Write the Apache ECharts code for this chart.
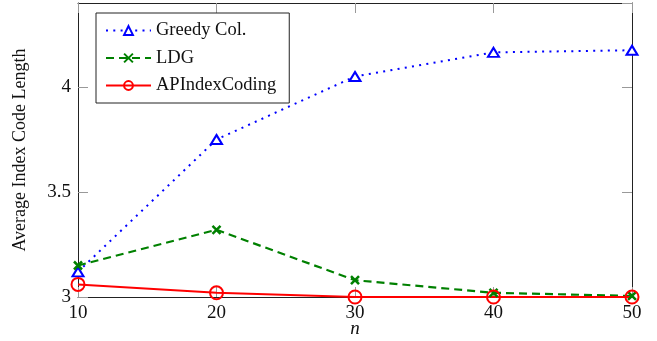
<!DOCTYPE html>
<html>
<head>
<meta charset="utf-8">
<script src="https://cdn.jsdelivr.net/npm/echarts@6/dist/echarts.min.js"></script>
<style>
  html, body { margin: 0; padding: 0; background: #fff; }
  #chart { width: 657px; height: 341px; }
</style>
</head>
<body>
<div id="chart"></div>
<script>
// Average index code length versus n for three coding schemes
const nValues = [10, 20, 30, 40, 50];
const greedyCol = [3.12, 3.75, 4.05, 4.165, 4.175];
const ldg = [3.15, 3.32, 3.08, 3.02, 3.005];
const apIndexCoding = [3.06, 3.02, 3.0, 3.0, 3.0];
const xTicks = [10, 20, 30, 40, 50];
const yTicks = [3, 3.5, 4];

const serif = 'Liberation Serif';
const pair = (xs, ys) => xs.map((x, i) => [x, ys[i]]);

const tickStyle = { show: true, inside: true, length: 10, lineStyle: { color: '#999', width: 1 } };
const frameLine = { show: true, onZero: false, lineStyle: { color: '#222', width: 1 } };

const chart = echarts.init(document.getElementById('chart'), null, { renderer: 'canvas' });
chart.setOption({
  animation: false,
  backgroundColor: '#fff',
  textStyle: { fontFamily: serif },
  grid: { left: 78, right: 25, top: 3, bottom: 44, containLabel: false, outerBoundsMode: 'none' },
  legend: {
    orient: 'vertical',
    left: 96,
    top: 13,
    padding: [8, 13, 8, 9],
    itemGap: 8.5,
    itemWidth: 45,
    itemHeight: 11,
    backgroundColor: '#fff',
    borderColor: '#222',
    borderWidth: 1,
    textStyle: { fontFamily: serif, fontSize: 18.5, color: '#111', lineHeight: 18 },
    data: ['Greedy Col.', 'LDG', 'APIndexCoding']
  },
  xAxis: [
    {
      type: 'value', min: 10, max: 50, interval: 10,
      name: 'n', nameLocation: 'middle', nameGap: 22, nameMoveOverlap: false,
      nameTextStyle: { fontFamily: serif, fontSize: 19, fontStyle: 'italic', color: '#111' },
      axisLine: frameLine, axisTick: tickStyle, splitLine: { show: false },
      axisLabel: {
        margin: 7, fontFamily: serif, fontSize: 19, color: '#111',
        formatter: v => (xTicks.indexOf(v) >= 0 ? String(v) : '')
      }
    },
    {
      type: 'value', position: 'top', min: 10, max: 50, interval: 10,
      axisLine: frameLine, axisTick: tickStyle, splitLine: { show: false },
      axisLabel: { show: false }
    }
  ],
  yAxis: [
    {
      type: 'value', min: 3, max: 4.4, interval: 0.5,
      name: 'Average Index Code Length', nameLocation: 'middle', nameGap: 49, nameRotate: 90,
      nameMoveOverlap: false,
      nameTextStyle: { fontFamily: serif, fontSize: 18, color: '#111' },
      axisLine: frameLine, axisTick: tickStyle, splitLine: { show: false },
      axisLabel: {
        margin: 7, fontFamily: serif, fontSize: 19, color: '#111', showMaxLabel: false,
        formatter: v => (yTicks.indexOf(v) >= 0 ? String(v) : '')
      }
    },
    {
      type: 'value', position: 'right', min: 3, max: 4.4, interval: 0.5,
      axisLine: frameLine, axisTick: tickStyle, splitLine: { show: false },
      axisLabel: { show: false }
    }
  ],
  series: [
    {
      name: 'Greedy Col.', type: 'line', clip: false,
      data: pair(nValues, greedyCol),
      symbol: 'triangle', symbolSize: [11, 9],
      itemStyle: { color: '#fff', borderColor: '#0000ff', borderWidth: 2 },
      lineStyle: { color: '#0000ff', width: 2, type: [2, 5.3] }
    },
    {
      name: 'LDG', type: 'line', clip: false,
      data: pair(nValues, ldg),
      symbol: 'path://M0,0L10,10M10,0L0,10', symbolSize: 8,
      itemStyle: { color: 'rgba(0,0,0,0)', borderColor: '#008000', borderWidth: 2.5 },
      lineStyle: { color: '#008000', width: 2.2, type: [8, 5] }
    },
    {
      name: 'APIndexCoding', type: 'line', clip: false,
      data: pair(nValues, apIndexCoding),
      symbol: 'circle', symbolSize: 13,
      itemStyle: { color: 'rgba(255,255,255,0)', borderColor: '#ff0000', borderWidth: 2 },
      lineStyle: { color: '#ff0000', width: 2 }
    }
  ]
});
</script>
</body>
</html>
